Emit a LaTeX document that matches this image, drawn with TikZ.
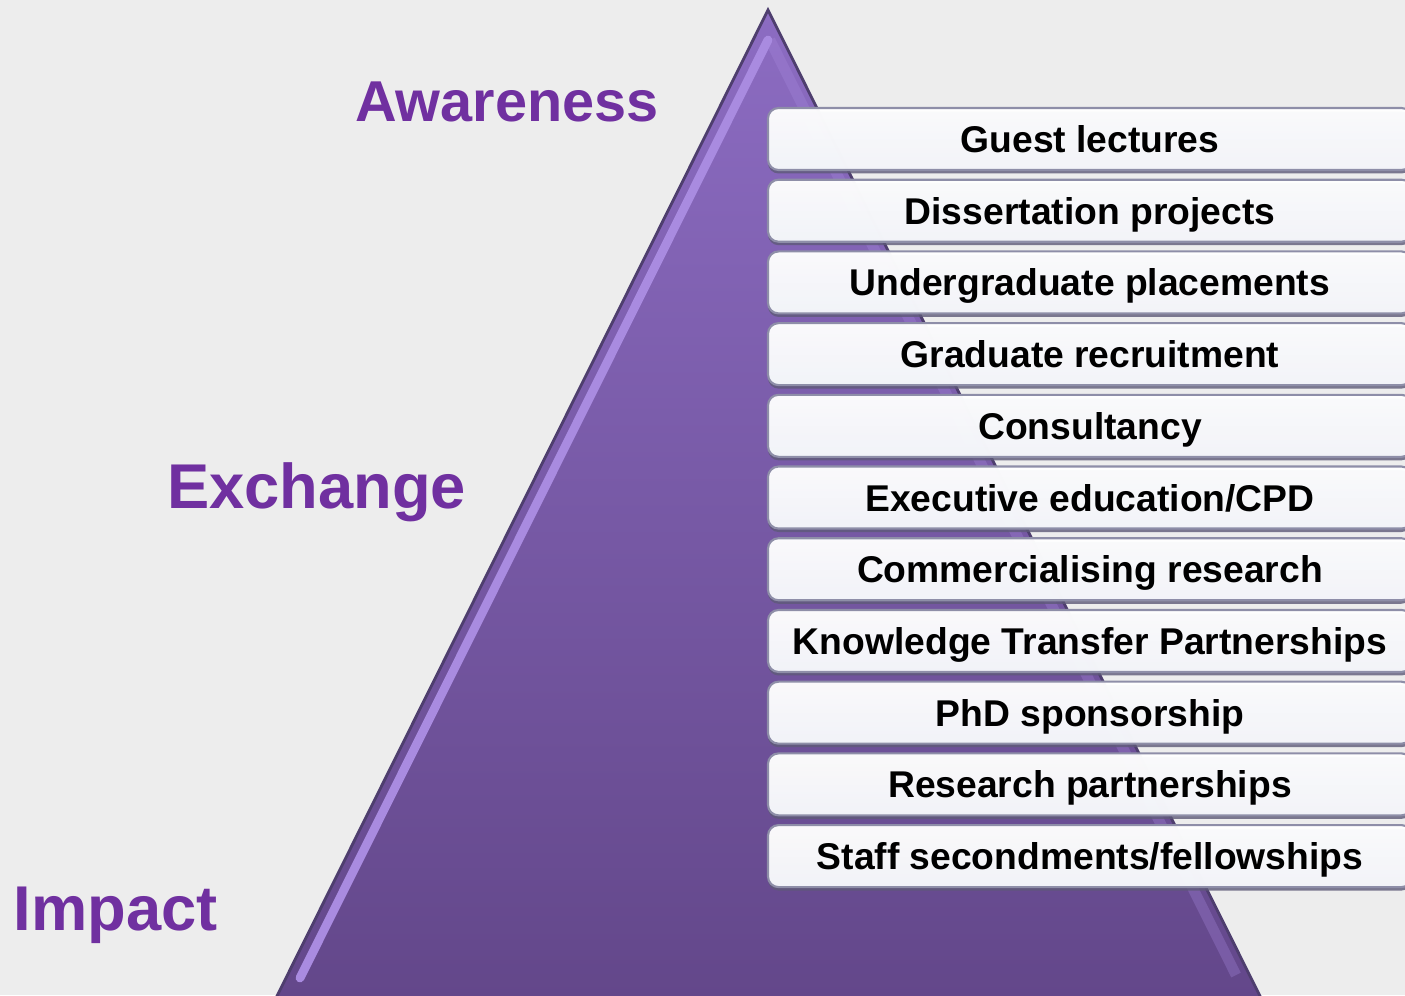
\documentclass[tikz,border=0pt]{standalone}
\usepackage{fontspec}
\setmainfont{Liberation Sans}
\usetikzlibrary{positioning,shadows}

\definecolor{bgcol}{HTML}{EDEDED}
\definecolor{stagecol}{HTML}{7030A0}
\definecolor{tritop}{HTML}{8C6CC2}
\definecolor{tribot}{HTML}{63478A}
\definecolor{triedge}{HTML}{4E3E6E}
\definecolor{hilite}{HTML}{A98BE0}
\definecolor{boxline}{HTML}{8E8EA8}
\definecolor{boxbot}{HTML}{F6F8FC}
\definecolor{shadowcol}{HTML}{5E5A78}

\begin{document}
\begin{tikzpicture}[
	node distance=0.076cm and 0cm,
	actbox/.style={draw=boxline, line width=0.6pt, rounded corners=3pt, top color=white, bottom color=boxbot, fill opacity=0.97, text opacity=1, minimum width=6.44cm, minimum height=0.62cm, inner sep=0pt, text height=0.27cm, text depth=0pt, font=\bfseries\fontsize{10.6}{12}\selectfont, drop shadow={shadow xshift=0pt, shadow yshift=-0.035cm, fill=shadowcol, opacity=0.8}},
	stage/.style={anchor=base, text=stagecol, font=\bfseries\fontsize{18}{20}\selectfont}
	]
	
	\clip (0,0) rectangle (14.05,9.95);
	\fill[bgcol] (0,0) rectangle (14.05,9.95);
	
	% pyramid
	\coordinate (apex) at (7.68,9.85);
	\coordinate (bl) at (2.75,-0.05);
	\coordinate (br) at (12.62,-0.05);
	\shade[top color=tritop, bottom color=tribot, draw=triedge, line width=0.8pt] (apex) -- (bl) -- (br) -- cycle;
	\draw[hilite, line width=2.5pt, line cap=round] (7.68,9.55) -- (3.00,0.17);
	\draw[hilite, line width=3pt, opacity=0.3] (7.70,9.55) -- (12.36,0.2);
	
	% stages
	\node[stage, font=\bfseries\fontsize{16.4}{19}\selectfont] (aw) at (5.07,8.73) {Awareness};
	\node[stage] (ex) at (3.165,4.87) {Exchange};
	\node[stage] (im) at (1.155,0.65) {Impact};
	
	% activities
	\node[actbox] (gl) at (10.90,8.56) {Guest lectures};
	\node[actbox, below = of gl]  (dp) {Dissertation projects};
	\node[actbox, below = of dp]  (ug) {Undergraduate placements};
	\node[actbox, below = of ug]  (gr) {Graduate recruitment};
	\node[actbox, below = of gr]  (cs) {Consultancy};
	\node[actbox, below = of cs]  (ee) {Executive education/CPD};
	\node[actbox, below = of ee]  (cr) {Commercialising research};
	\node[actbox, below = of cr]  (ktp) {Knowledge Transfer Partnerships};
	\node[actbox, below = of ktp] (phd) {PhD sponsorship};
	\node[actbox, below = of phd] (rp) {Research partnerships};
	\node[actbox, below = of rp]  (ss) {Staff secondments/fellowships};
	
\end{tikzpicture}
\end{document}
